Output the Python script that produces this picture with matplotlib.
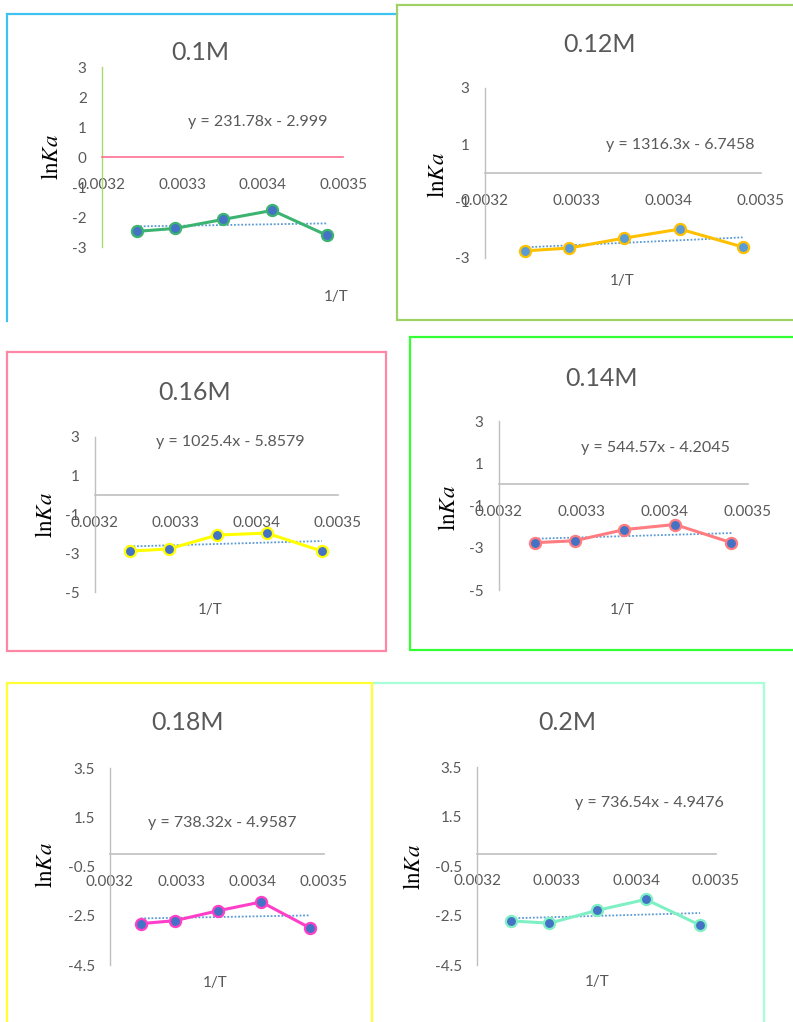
import numpy as np
import matplotlib
matplotlib.use("Agg")
import matplotlib.pyplot as plt
from matplotlib.lines import Line2D

plt.rcParams['font.family'] = ['Lato', 'DejaVu Sans']
plt.rcParams['mathtext.fontset'] = 'stix'

# ---------------- data ----------------
inv_T = [0.003243, 0.003291, 0.003351, 0.003412, 0.003480]
titles = ["0.1M", "0.12M", "0.16M", "0.14M", "0.18M", "0.2M"]
lnKa_01 = [-2.47, -2.37, -2.07, -1.77, -2.60]
lnKa_012 = [-2.76, -2.66, -2.31, -1.99, -2.62]
lnKa_016 = [-2.89, -2.78, -2.06, -1.96, -2.89]
lnKa_014 = [-2.76, -2.67, -2.14, -1.90, -2.76]
lnKa_018 = [-2.82, -2.70, -2.30, -1.94, -2.99]
lnKa_02 = [-2.72, -2.81, -2.29, -1.85, -2.89]
equations = ["y = 231.78x - 2.999", "y = 1316.3x - 6.7458", "y = 1025.4x - 5.8579",
             "y = 544.57x - 4.2045", "y = 738.32x - 4.9587", "y = 736.54x - 4.9476"]
x_ticks = [0.0032, 0.0033, 0.0034, 0.0035]
x_tick_labels = ["0.0032", "0.0033", "0.0034", "0.0035"]
y_ticks_a = [3, 2, 1, 0, -1, -2, -3]
y_ticks_b = [3, 1, -1, -3]
y_ticks_c = [3, 1, -1, -3, -5]
y_ticks_d = [3.5, 1.5, -0.5, -2.5, -4.5]
series = [lnKa_01, lnKa_012, lnKa_016, lnKa_014, lnKa_018, lnKa_02]

W, H = 793, 1022
fig = plt.figure(figsize=(W / 100, H / 100), dpi=100)
fig.patch.set_facecolor('white')

def fx(p):
    return p / W

def fy(p):
    return 1 - p / H

GRAY = '#595959'
AX_GRAY = '#BFBFBF'

# ---------------- panel boxes ----------------
def fig_line(xs, ys, color, lw=1.6):
    fig.add_artist(Line2D([fx(v) for v in xs], [fy(v) for v in ys], color=color, lw=lw,
                          solid_joinstyle='miter'))

fig_line([7, 7, 397], [321, 14, 14], '#3EC3F0')                     # 0.1M
fig_line([397, 397, 800], [5, 320, 320], '#9ED264')                  # 0.12M
fig_line([397, 800], [5, 5], '#9ED264')
fig_line([7, 386, 386, 7, 7], [352, 352, 651, 651, 352], '#FF87A6')  # 0.16M
fig_line([800, 410, 410, 800], [337, 337, 650, 650], '#33FF33')      # 0.14M
fig_line([374, 764, 764], [683, 683, 1030], '#A6FFD6')               # 0.2M
fig_line([7, 7, 372, 372], [1030, 683, 683, 1030], '#FFFF33')        # 0.18M

# ---------------- panels ----------------
panels = [
    dict(box=(102, 343, 67.3, 247.3), ylim=(-3, 3), yt=y_ticks_a, lc='#3CB371', mf='#4472C4',
         xax='#FF6F91', yax='#A9D86E', title=(200, 52), eq=(188, 122), xl=(336, 297), yl=(52, 157)),
    dict(box=(485, 761, 87.7, 257.7), ylim=(-3, 3), yt=y_ticks_b, lc='#FFC000', mf='#5B9BD5',
         xax=AX_GRAY, yax=AX_GRAY, title=(600, 45), eq=(606, 145), xl=(622, 281), yl=(438, 175)),
    dict(box=(95, 338, 437, 592), ylim=(-5, 3), yt=y_ticks_c, lc='#FFFF00', mf='#4472C4',
         xax=AX_GRAY, yax=AX_GRAY, title=(195, 393), eq=(156, 442), xl=(210, 610), yl=(45, 515)),
    dict(box=(499, 748, 421, 590), ylim=(-5, 3), yt=y_ticks_c, lc='#FF7C80', mf='#4472C4',
         xax=AX_GRAY, yax=AX_GRAY, title=(602, 378), eq=(581, 448), xl=(622, 610), yl=(448, 508)),
    dict(box=(110, 324, 768, 965), ylim=(-4.5, 3.5), yt=y_ticks_d, lc='#FF3FC8', mf='#4472C4',
         xax=AX_GRAY, yax=AX_GRAY, title=(187, 723), eq=(148, 823), xl=(215, 983), yl=(45, 865)),
    dict(box=(477, 716, 767, 965), ylim=(-4.5, 3.5), yt=y_ticks_d, lc='#7FF0C4', mf='#4472C4',
         xax=AX_GRAY, yax=AX_GRAY, title=(567, 722), eq=(575, 803), xl=(597, 982), yl=(413, 867)),
]

for p, ttl, ys, eq in zip(panels, titles, series, equations):
    l, r, t, b = p['box']
    ax = fig.add_axes([fx(l), fy(b), (r - l) / W, (b - t) / H])
    ax.patch.set_alpha(0)
    ax.set_xlim(0.0032, 0.0035)
    ax.set_ylim(*p['ylim'])
    for s in ('top', 'right'):
        ax.spines[s].set_visible(False)
    ax.spines['left'].set_color(p['yax'])
    ax.spines['left'].set_linewidth(1.0)
    ax.spines['bottom'].set_position(('data', 0))
    ax.spines['bottom'].set_color(p['xax'])
    ax.spines['bottom'].set_linewidth(1.2)
    ax.set_xticks(x_ticks)
    ax.set_xticklabels(x_tick_labels)
    ax.set_yticks(p['yt'])
    ax.set_yticklabels([f"{v:g}" for v in p['yt']])
    ax.tick_params(axis='x', length=0, pad=15, labelsize=11, labelcolor=GRAY)
    ax.tick_params(axis='y', length=0, pad=11, labelsize=11, labelcolor=GRAY)

    # linear trendline (dotted)
    k, c0 = np.polyfit(inv_T, ys, 1)
    xt = np.array([inv_T[0], inv_T[-1]])
    ax.plot(xt, k * xt + c0, linestyle=(0, (1, 1)), color='#5B9BD5', lw=1.3, zorder=2)
    # data
    ax.plot(inv_T, ys, color=p['lc'], lw=2.2, marker='o', markersize=8,
            markerfacecolor=p['mf'], markeredgecolor=p['lc'], markeredgewidth=1.6,
            zorder=3, clip_on=False)

    fig.text(fx(p['title'][0]), fy(p['title'][1]), ttl, ha='center', va='center',
             fontsize=18, color=GRAY)
    fig.text(fx(p['eq'][0]), fy(p['eq'][1]), eq, ha='left', va='center',
             fontsize=11.5, color=GRAY)
    fig.text(fx(p['xl'][0]), fy(p['xl'][1]), "1/T", ha='center', va='center',
             fontsize=11, color=GRAY)
    fig.text(fx(p['yl'][0]), fy(p['yl'][1]), r"$\mathrm{ln}Ka$", ha='center', va='center',
             rotation=90, fontsize=16.5, color='black')

fig.savefig("out.png", dpi=100)
